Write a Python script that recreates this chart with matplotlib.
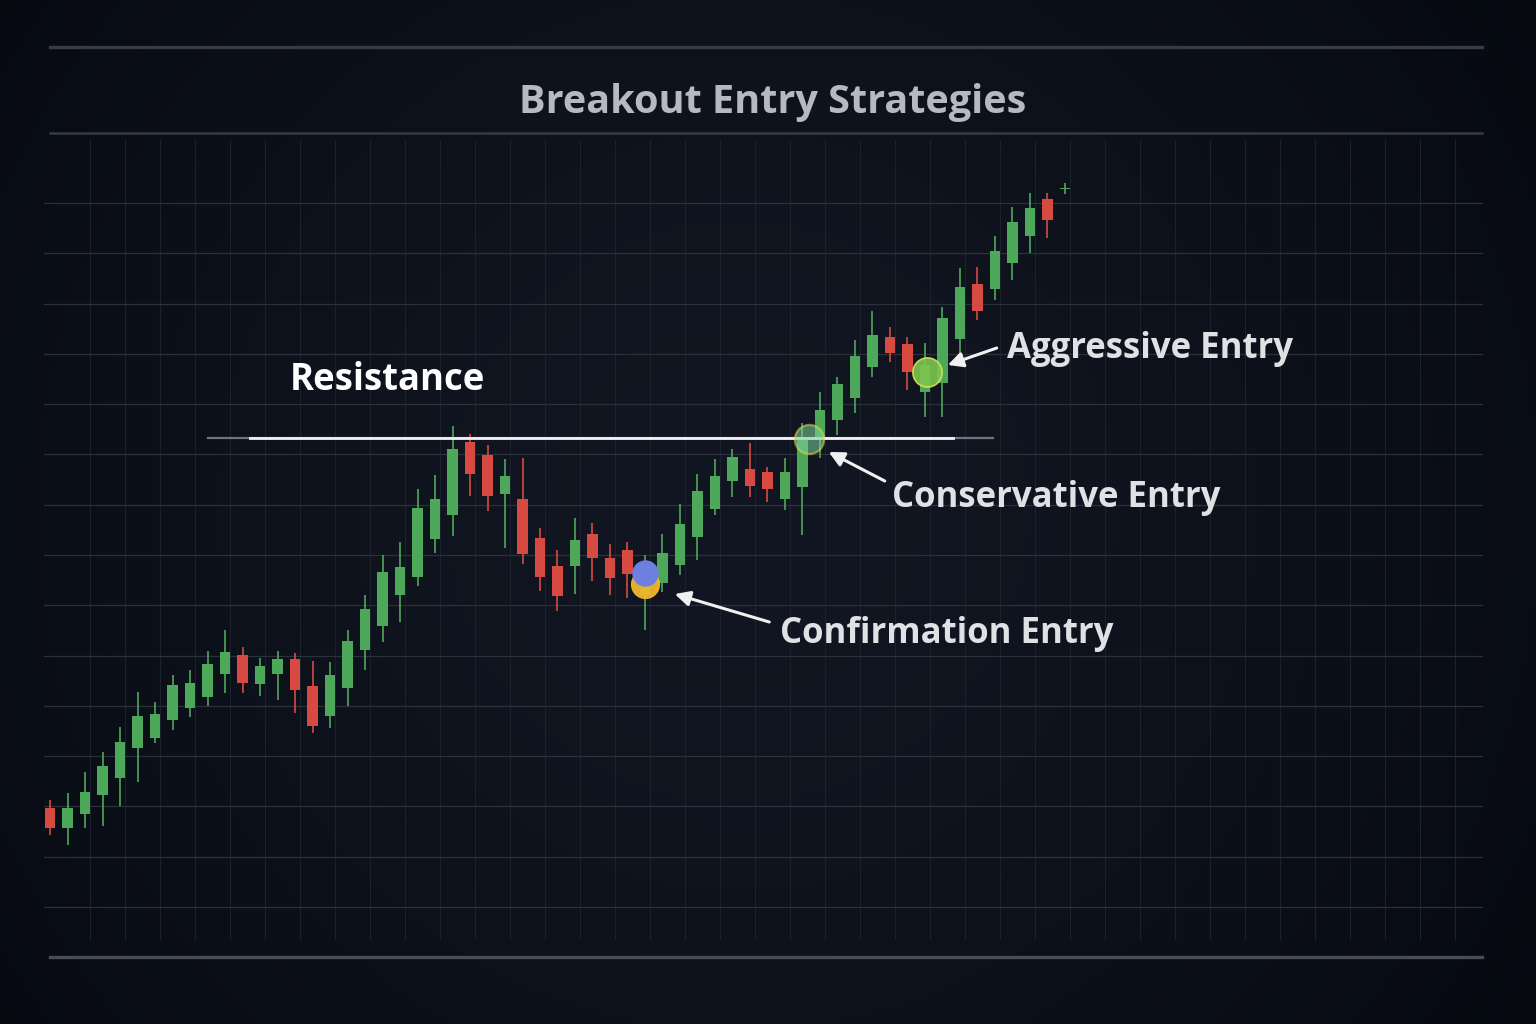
import numpy as np
import matplotlib
matplotlib.use("Agg")
import matplotlib.pyplot as plt
from matplotlib.lines import Line2D

# candle data (price units)
opens  = [63.0, 61.0, 62.4, 64.3, 66.0, 69.0, 70.0, 71.8, 73.0, 74.1,
          76.4, 78.3, 75.4, 76.4, 77.9, 75.2, 72.2, 75.0, 78.8, 81.2,
          84.3, 86.1, 89.9, 92.3, 99.6, 98.3, 94.4, 93.9, 90.0, 87.2,
          87.2, 90.4, 88.0, 88.8, 84.3, 85.5, 87.3, 90.1, 92.9, 95.7,
          96.9, 96.6, 93.9, 95.1, 100.0, 101.8, 104.0, 107.1, 110.1, 109.4,
          104.6, 105.5, 109.9, 115.4, 114.9, 117.5, 120.2, 123.9, 124.9]
highs  = [63.8, 64.5, 66.6, 68.6, 71.1, 74.6, 73.6, 76.3, 76.8, 78.7,
          80.8, 79.1, 78.0, 78.7, 78.5, 77.7, 77.6, 80.8, 84.3, 88.3,
          89.6, 94.9, 96.3, 101.2, 100.4, 99.3, 97.9, 98.0, 91.0, 88.8,
          92.0, 91.5, 89.4, 89.6, 88.3, 90.4, 93.4, 96.4, 97.9, 98.9,
          99.5, 97.1, 98.0, 101.5, 104.6, 106.1, 109.8, 112.7, 111.1, 110.1,
          109.5, 113.1, 117.0, 117.1, 120.2, 123.1, 124.5, 124.5, 125.5]
lows   = [60.3, 59.3, 61.0, 61.2, 63.2, 65.6, 69.5, 70.8, 72.1, 73.2,
          74.5, 74.5, 74.2, 73.8, 72.5, 70.5, 71.0, 73.2, 76.8, 79.6,
          81.6, 85.2, 88.5, 90.2, 94.2, 92.7, 89.0, 87.4, 84.7, 82.7,
          84.4, 85.7, 84.3, 84.0, 80.8, 84.6, 86.3, 87.8, 92.3, 94.1,
          94.1, 93.6, 92.8, 90.3, 98.0, 100.3, 102.5, 106.1, 107.6, 104.8,
          102.1, 102.1, 108.1, 111.8, 113.8, 115.8, 118.5, 120.0, 124.4]
closes = [61.0, 63.0, 64.6, 67.2, 69.6, 72.2, 72.4, 75.3, 75.5, 77.4,
          78.6, 75.5, 77.2, 77.9, 74.8, 71.2, 76.3, 79.7, 82.9, 86.6,
          87.1, 93.0, 93.9, 98.9, 96.4, 94.2, 96.2, 88.4, 86.1, 84.2,
          89.8, 88.0, 86.0, 86.4, 86.5, 88.5, 91.4, 94.7, 96.2, 98.1,
          95.2, 94.9, 96.6, 99.8, 102.8, 105.4, 108.2, 110.3, 108.5, 106.6,
          107.3, 112.0, 115.1, 112.7, 118.7, 121.6, 123.0, 121.8, 125.0]

resistance_level = 100.0
resistance_span = (11.4, 51.6)
resistance_fade = (9.0, 53.9)

# entry markers: name, candle position, price
entry_names = ["Confirmation Entry", "Conservative Entry", "Aggressive Entry"]
entry_x = [34.0, 43.4, 50.1]
entry_y = [86.5, 99.9, 106.6]

# arrow tip, arrow tail, text anchor for each label
arrow_tips = [(35.7, 84.4), (44.5, 98.6), (51.3, 107.3)]
arrow_tails = [(41.1, 81.6), (47.7, 95.7), (54.1, 109.0)]
label_pos = [(41.7, 80.4), (48.1, 94.0), (54.7, 108.9)]

GREEN = "#4ea85a"
RED = "#d64a42"
TXT = "#e0e1e4"

plt.rcParams['font.family'] = ['Open Sans', 'DejaVu Sans']

fig = plt.figure(figsize=(15.36, 10.24), dpi=100)

# background with a soft vignette
bg = fig.add_axes([0, 0, 1, 1], zorder=0)
yy, xx = np.mgrid[0:1:256j, 0:1.5:384j]
r = np.sqrt((xx - 0.72) ** 2 + (yy - 0.5) ** 2)
r = np.clip(r / r.max(), 0, 1)
c0 = np.array([0x11, 0x16, 0x22]) / 255
c1 = np.array([0x06, 0x09, 0x10]) / 255
img = c0[None, None, :] * (1 - r[..., None] ** 1.6) + c1[None, None, :] * r[..., None] ** 1.6
bg.imshow(img, aspect='auto', extent=[0, 1, 0, 1], origin='lower')
bg.set_axis_off()

# rules above / below
for ypx, lw, col in [(47, 2.4, "#363b45"), (133, 1.8, "#353a44"), (957, 2.4, "#474c56")]:
    fig.add_artist(Line2D([50 / 1536, 1482 / 1536], [1 - ypx / 1024] * 2,
                          color=col, lw=lw, transform=fig.transFigure, zorder=1))

fig.text(773 / 1536, 1 - 102 / 1024, "Breakout Entry Strategies", ha='center', va='center',
         fontsize=28.5, fontweight='bold', color="#b6b9c0", zorder=5)

ax = fig.add_axes([44 / 1536, 1 - 940 / 1024, (1483 - 44) / 1536, 800 / 1024], zorder=2)
ax.set_facecolor('none')
ax.set_xlim(-0.343, 81.886)
ax.set_ylim(49.8, 129.8)
for s in ax.spines.values():
    s.set_visible(False)
ax.tick_params(length=0, labelbottom=False, labelleft=False)
ax.set_yticks(np.linspace(53.1, 123.5, 15))
ax.set_xticks(np.arange(2.3, 82, 2.0))
ax.grid(axis='y', color="#2b313b", lw=0.9)
ax.grid(axis='x', color="#1c222c", lw=0.8)
ax.set_axisbelow(True)

x = np.arange(len(opens))
o = np.array(opens)
c = np.array(closes)
colors = [GREEN if cc >= oo else RED for oo, cc in zip(o, c)]
ax.vlines(x, lows, highs, colors=colors, lw=1.2, zorder=3)
ax.bar(x, np.abs(c - o), bottom=np.minimum(o, c), width=0.58, color=colors, zorder=3)

# resistance line
ax.plot(resistance_fade, [resistance_level] * 2, color="#6f747d", lw=1.6, zorder=4)
ax.plot(resistance_span, [resistance_level] * 2, color="#f2f2f2", lw=2.0, zorder=4)
ax.text(13.7, 105.8, "Resistance", color="white", fontsize=26.3, fontweight='bold',
        ha='left', va='center', zorder=6)

# entry markers
ax.plot(entry_x[0], entry_y[0] - 1.1, 'o', ms=20, color="#f0b82c", alpha=0.95, zorder=5)
ax.plot(entry_x[0], entry_y[0], 'o', ms=18, color="#6c80df", zorder=5)
ax.plot(entry_x[1], entry_y[1], 'o', ms=21, mfc="#7fd39a", mec="#e6d44a", mew=1.6,
        alpha=0.55, zorder=5)
ax.plot(entry_x[2], entry_y[2], 'o', ms=21, mfc="#7ec64f", mec="#d4e35a", mew=1.2,
        alpha=0.9, zorder=5)

for name, tip, tail, pos in zip(entry_names, arrow_tips, arrow_tails, label_pos):
    ax.annotate("", xy=tip, xytext=tail,
                arrowprops=dict(arrowstyle='-|>,head_length=0.9,head_width=0.45',
                                color="#f0f0f0", lw=2.2, shrinkA=0, shrinkB=0),
                zorder=6)
    ax.text(pos[0], pos[1], name, color=TXT, fontsize=25, fontweight='bold',
            ha='left', va='center', zorder=6)

fig.savefig("out.png", dpi=100, facecolor="#0b0f17")
